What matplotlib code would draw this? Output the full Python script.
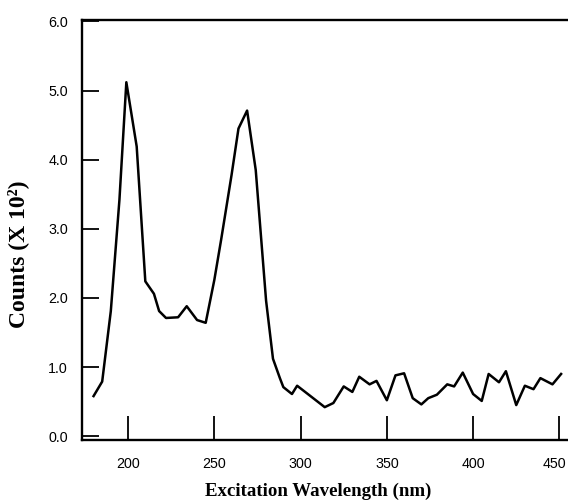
import matplotlib
matplotlib.use("Agg")
import matplotlib.pyplot as plt
import matplotlib.transforms as mtransforms

wavelength = [180, 185, 190, 195, 199, 205, 210, 215, 218, 222, 229, 234, 240, 245,
              250, 254, 260, 264, 269, 274, 280, 284, 288, 290, 295, 298, 314, 319,
              325, 330, 334, 340, 344, 350, 355, 360, 365, 370, 374, 379, 385, 389,
              394, 400, 405, 409, 415, 419, 425, 430, 435, 439, 446, 451]
counts = [0.58, 0.79, 1.81, 3.42, 5.12, 4.19, 2.24, 2.06, 1.81, 1.71, 1.72, 1.88, 1.68, 1.64,
          2.26, 2.85, 3.78, 4.45, 4.71, 3.85, 1.96, 1.12, 0.84, 0.71, 0.61, 0.73, 0.42, 0.48,
          0.72, 0.64, 0.86, 0.75, 0.80, 0.52, 0.88, 0.91, 0.55, 0.46, 0.55, 0.60, 0.75, 0.72,
          0.92, 0.61, 0.51, 0.90, 0.78, 0.94, 0.45, 0.73, 0.68, 0.84, 0.75, 0.90]

xticks = [200, 250, 300, 350, 400, 450]
yticks = [0.0, 1.0, 2.0, 3.0, 4.0, 5.0, 6.0]
ytick_labels = ["0.0", "1.0", "2.0", "3.0", "4.0", "5.0", "6.0"]

fig = plt.figure(figsize=(5.68, 5.0), dpi=100)
ax = fig.add_axes([82/568, 60/500, 1 - 82/568, 420/500])

ax.plot(wavelength, counts, color="black", lw=1.8, solid_joinstyle="round")

ax.set_xlim(173.3, 455.0)
ax.set_ylim(-0.055, 6.02)

ax.set_xticks(xticks)
ax.set_yticks(yticks)
ax.set_yticklabels(ytick_labels)

for lab in ax.get_xticklabels() + ax.get_yticklabels():
    lab.set_fontfamily("Liberation Sans")
    lab.set_fontsize(10.3)

ax.tick_params(axis="y", direction="in", length=12, width=1.3, pad=10, colors="black")
ax.tick_params(axis="x", direction="in", length=17, width=1.3, pad=12, colors="black")

# keep the last x label inside the figure
last = ax.get_xticklabels()[-1]
last.set_transform(last.get_transform() +
                   mtransforms.ScaledTranslation(-5/100, 0, fig.dpi_scale_trans))

for s in ["left", "bottom", "top"]:
    ax.spines[s].set_linewidth(1.7)
    ax.spines[s].set_color("black")
ax.spines["right"].set_visible(False)

fig.text(318.3/568, 1 - 491/500, "Excitation Wavelength (nm)", ha="center", va="center",
         fontfamily="Liberation Serif", fontweight="bold", fontsize=13.6)
fig.text(18/568, 1 - 254/500, "Counts (X 10²)", ha="center", va="center", rotation=90,
         fontfamily="Liberation Serif", fontweight="bold", fontsize=17)

fig.savefig("out.png", dpi=100)
